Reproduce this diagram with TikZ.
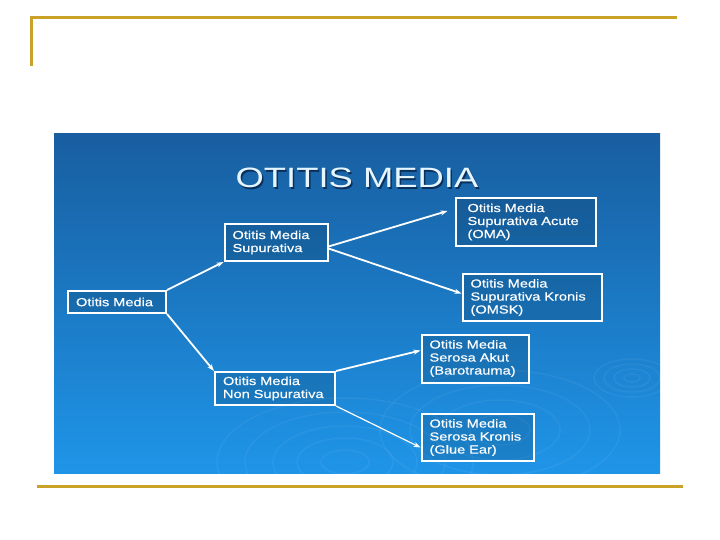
\documentclass[tikz,border=0pt]{standalone}
\usepackage{fontspec}
\setmainfont{Liberation Sans}
\newfontfamily\boxfont{Liberation Sans}[FakeStretch=1.25, FakeBold=0.4]
\newfontfamily\titlefont{Liberation Sans}[FakeStretch=1.3]
\usetikzlibrary{arrows.meta, positioning, calc}

\definecolor{slidegold}{HTML}{C9A227}
\definecolor{paneltop}{HTML}{185EA0}
\definecolor{panelbottom}{HTML}{1F95E8}
\definecolor{titlecyan}{HTML}{E6F6FF}
\definecolor{titleshadow}{HTML}{0A2F5A}

\tikzset{
    box/.style={draw=white, line width=2pt, fill=black, fill opacity=0.12,
        text opacity=1, text=white, align=left, inner xsep=8pt, inner ysep=0pt,
        font=\boxfont\fontsize{11.7}{13}\selectfont},
    link/.style={draw=white, line width=1.8pt, -{Stealth[length=7pt,width=5pt]}},
    ripple/.style={draw=white, draw opacity=0.05, line width=1.5pt}
}

\begin{document}
\begin{tikzpicture}[x=1pt, y=-1pt]
    \useasboundingbox (0,0) rectangle (720,540);

    % slide frame
    \draw[slidegold, line width=3pt] (31,66) -- (31,18) -- (677,18);
    \draw[slidegold, line width=3pt] (37,486) -- (683,486);

    % blue panel
    \shade[top color=paneltop, bottom color=panelbottom] (54,134) rectangle (660,473);
    \begin{scope}
        \clip (54,134) rectangle (660,473);
        \foreach \r in {12,24,36,50,64}
            \draw[ripple] (345,462) ellipse [x radius=2*\r, y radius=\r];
        \foreach \r in {15,30,45,60}
            \draw[ripple] (500,430) ellipse [x radius=2*\r, y radius=\r];
        \foreach \r in {4,9,14,19}
            \draw[ripple] (632,378) ellipse [x radius=2*\r, y radius=\r];
    \end{scope}

    \node[text=titleshadow, font=\titlefont\fontsize{28}{30}\selectfont] (titleshade) at (358.5,179.5) {OTITIS MEDIA};
    \node[text=titlecyan, font=\titlefont\fontsize{28}{30}\selectfont] (title) at (357,178) {OTITIS MEDIA};

    \node[box, text width=82pt, minimum height=22pt] (om) at (117,302) {Otitis Media};
    \node[box, text width=87pt, minimum height=37pt] (sup) at (276,242.5) {Otitis Media\\Supurativa};
    \node[box, text width=104pt, minimum height=33pt] (nonsup) at (275,388.5) {Otitis Media\\Non Supurativa};
    \node[box, inner xsep=12pt, text width=116pt, minimum height=48pt] (oma) at (525.5,222) {Otitis Media\\Supurativa Acute\\(OMA)};
    \node[box, text width=123pt, minimum height=47pt] (omsk) at (532,297.5) {Otitis Media\\Supurativa Kronis\\(OMSK)};
    \node[box, text width=91pt, minimum height=48pt] (akut) at (475,358.5) {Otitis Media\\Serosa Akut\\(Barotrauma)};
    \node[box, text width=96pt, minimum height=47pt] (kron) at (477.5,437.5) {Otitis Media\\Serosa Kronis\\(Glue Ear)};

    \draw[link] (om.north east) -- (sup.south west);
    \draw[link] (om.south east) -- (nonsup.north west);
    \draw[link] ([yshift=-4pt]sup.east) -- ([xshift=-7pt,yshift=11pt]oma.west);
    \draw[link] ([yshift=-6pt]sup.east) -- ([yshift=4pt]omsk.west);
    \draw[link] (nonsup.north east) -- ([yshift=8pt]akut.west);
    \draw[link, line width=1.2pt] (nonsup.south east) -- ([yshift=-10pt]kron.west);
\end{tikzpicture}
\end{document}
